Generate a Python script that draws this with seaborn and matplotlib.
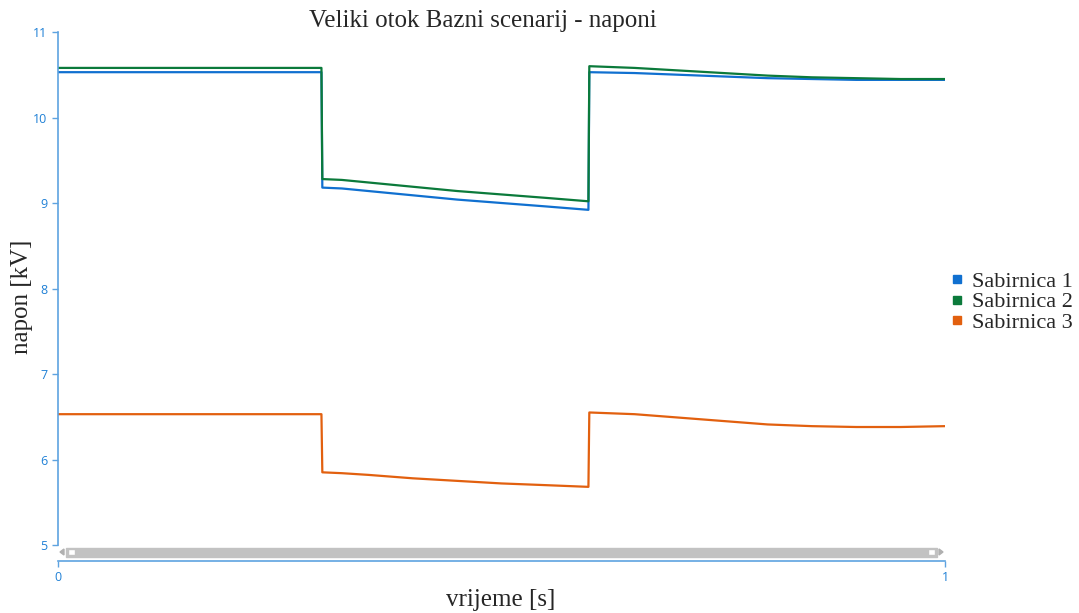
import pandas
import seaborn
import matplotlib.pyplot as plt
from matplotlib.lines import Line2D
from matplotlib.patches import Rectangle, Polygon

# vrijeme [s]
vrijeme = [0, 0.297, 0.298, 0.32, 0.35, 0.4, 0.45, 0.5, 0.55, 0.598, 0.599,
           0.65, 0.7, 0.75, 0.8, 0.85, 0.9, 0.95, 1.0]

# naponi [kV]
sabirnica1 = [10.53, 10.53, 9.18, 9.17, 9.14, 9.09, 9.04, 9.00, 8.96, 8.92, 10.53,
              10.52, 10.50, 10.48, 10.46, 10.45, 10.44, 10.44, 10.44]
sabirnica2 = [10.58, 10.58, 9.28, 9.27, 9.24, 9.19, 9.14, 9.10, 9.06, 9.02, 10.60,
              10.58, 10.55, 10.52, 10.49, 10.47, 10.46, 10.45, 10.45]
sabirnica3 = [6.53, 6.53, 5.85, 5.84, 5.82, 5.78, 5.75, 5.72, 5.70, 5.68, 6.55,
              6.53, 6.49, 6.45, 6.41, 6.39, 6.38, 6.38, 6.39]

nazivi = ['Sabirnica 1', 'Sabirnica 2', 'Sabirnica 3']
boje = ['#1070d0', '#0b7a3b', '#e2600f']
yticks = [5, 6, 7, 8, 9, 10, 11]
xticks = [0, 1]

df = pandas.concat([
    pandas.DataFrame({'vrijeme': vrijeme, 'napon': v, 'sabirnica': n})
    for v, n in zip([sabirnica1, sabirnica2, sabirnica3], nazivi)
])

seaborn.set_style('white')
plt.rcParams['font.family'] = ['Open Sans', 'DejaVu Sans']

fig = plt.figure(figsize=(10.79, 6.13), dpi=100)
ax = fig.add_axes([58 / 1079, 1 - 545 / 613, 887 / 1079, 513 / 613])

seaborn.lineplot(data=df, x='vrijeme', y='napon', hue='sabirnica',
                 palette=dict(zip(nazivi, boje)), linewidth=1.6,
                 legend=False, ax=ax, sort=False)

os_boja = '#5ea3e0'
tick_boja = '#1f80d6'
ax.set_xlim(0, 1)
ax.set_ylim(5, 11)
ax.set_yticks(yticks)
ax.set_xticks(xticks)
for s in ['top', 'right']:
    ax.spines[s].set_visible(False)
ax.spines['left'].set_color(os_boja)
ax.spines['bottom'].set_color(os_boja)
ax.spines['left'].set_linewidth(1.2)
ax.spines['bottom'].set_linewidth(1.2)
ax.spines['bottom'].set_position(('outward', 11.5))
ax.tick_params(axis='both', colors=os_boja, labelcolor=tick_boja,
               labelsize=9, length=4, width=1, direction='out', left=True, bottom=True)
ax.set_xlabel('')
ax.set_ylabel('')

# scrollbar ispod grafa
fig.patches.append(Rectangle((66 / 1079, 1 - 557 / 613), 871 / 1079, 9 / 613,
                             transform=fig.transFigure, color='#c2c2c2', zorder=3))
for x0 in [68, 928]:
    fig.patches.append(Rectangle((x0 / 1079, 1 - 555 / 613), 7 / 1079, 6 / 613,
                                 transform=fig.transFigure, facecolor='white',
                                 edgecolor='#c2c2c2', zorder=4))
fig.patches.append(Polygon([(64 / 1079, 1 - 549 / 613), (64 / 1079, 1 - 555 / 613),
                            (60 / 1079, 1 - 552 / 613)], closed=True,
                           transform=fig.transFigure, color='#b0b0b0'))
fig.patches.append(Polygon([(939 / 1079, 1 - 549 / 613), (939 / 1079, 1 - 555 / 613),
                            (943 / 1079, 1 - 552 / 613)], closed=True,
                           transform=fig.transFigure, color='#b0b0b0'))

serif = ['Liberation Serif', 'DejaVu Serif']
fig.text(483 / 1079, 1 - 21 / 613, 'Veliki otok Bazni scenarij - naponi',
         ha='center', va='center', fontsize=18, family=serif)
fig.text(22 / 1079, 1 - 297 / 613, 'napon [kV]', rotation=90,
         ha='center', va='center', fontsize=18, family=serif)
fig.text(501 / 1079, 1 - 600 / 613, 'vrijeme [s]',
         ha='center', va='center', fontsize=18, family=serif)

handles = [Line2D([], [], marker='s', linestyle='', color=b, markersize=6) for b in boje]
fig.legend(handles, nazivi, loc='center left', bbox_to_anchor=(946 / 1079, 1 - 302 / 613),
           frameon=False, prop={'family': serif, 'size': 16}, handletextpad=0.15,
           labelspacing=0.0, handlelength=1.0, borderaxespad=0, borderpad=0)

fig.savefig('out.png', dpi=100)
